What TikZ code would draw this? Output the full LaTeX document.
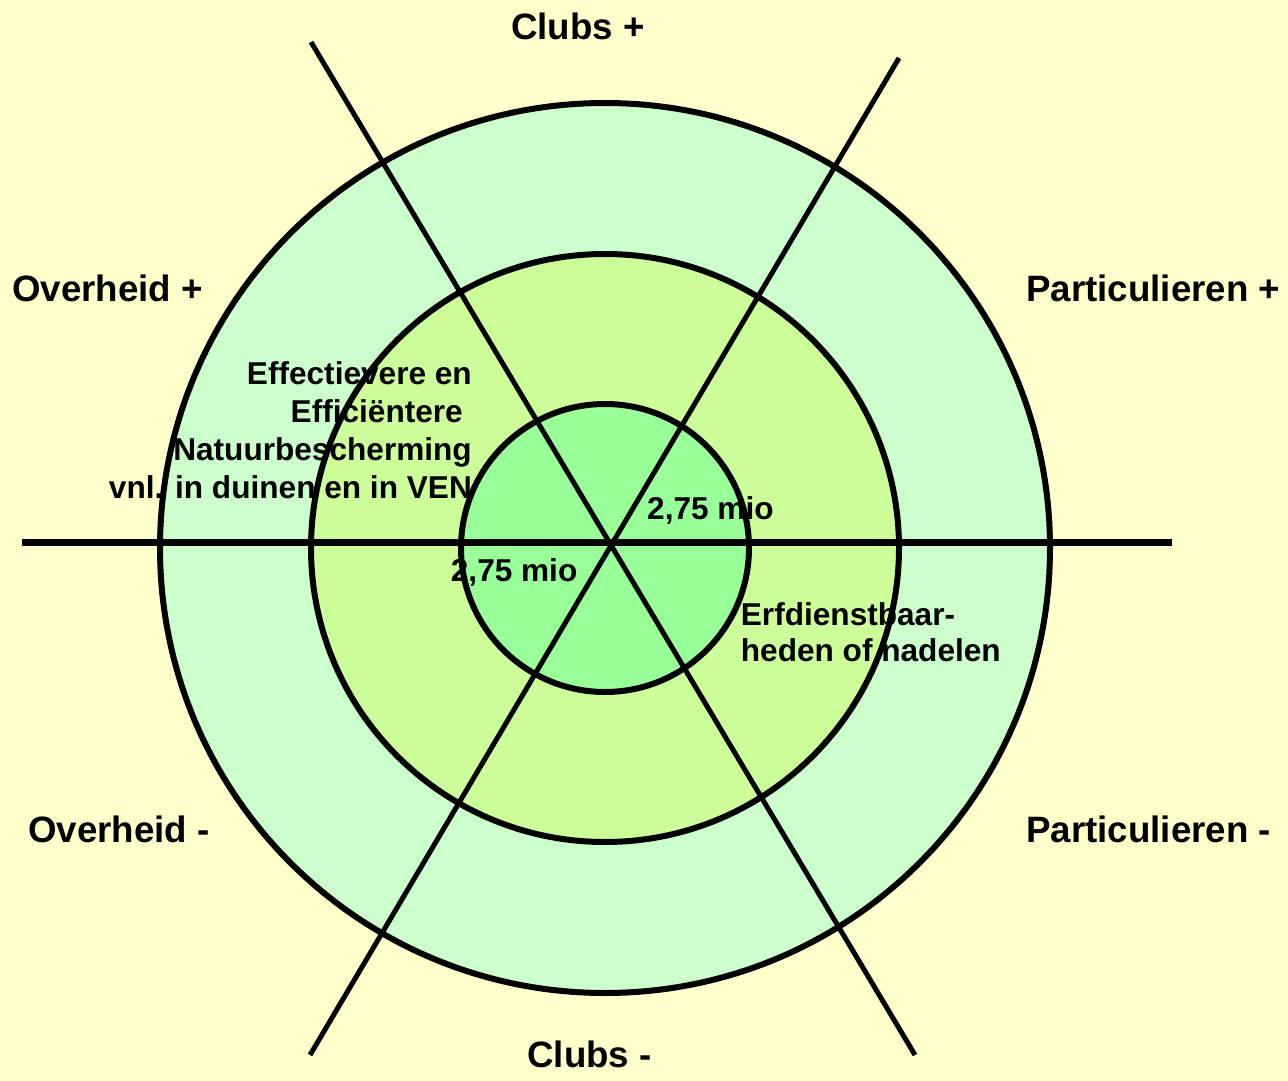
\documentclass[tikz,border=0pt]{standalone}
\usepackage{fontspec}
\setmainfont{Liberation Sans}
\definecolor{bgy}{HTML}{FFFFCC}
\definecolor{ringout}{HTML}{CCFFCC}
\definecolor{ringmid}{HTML}{CCFF99}
\definecolor{ringin}{HTML}{99FF99}
\begin{document}
\begin{tikzpicture}[x=1pt,y=-1pt,
  lab/.style={font=\fontsize{36.7}{44}\selectfont\bfseries, inner sep=0pt},
  txt/.style={font=\fontsize{31.6}{38}\selectfont\bfseries, inner sep=0pt},
  ring/.style={draw=black, line width=6pt},
  spoke/.style={draw=black, line width=5pt},
  axis/.style={draw=black, line width=7pt}]
\fill[bgy] (0,0) rectangle (1288,1081);
\useasboundingbox (0,0) rectangle (1288,1081);
\coordinate (c) at (605,548);
\fill[ringout] (c) circle [radius=445pt];
\fill[ringmid] (c) circle [radius=294pt];
\fill[ringin] (c) circle [radius=144pt];
% labels
\node[lab, anchor=base] (clubsp) at (578,40) {Clubs +};
\node[lab, anchor=base] (clubsm) at (589.5,1067) {Clubs -};
\node[lab, anchor=base west] (overp) at (12,301) {Overheid +};
\node[lab, anchor=base west] (partp) at (1026,301) {Particulieren +};
\node[lab, anchor=base west] (overm) at (28,842) {Overheid -};
\node[lab, anchor=base west] (partm) at (1026,842) {Particulieren -};
% inner texts
\node[txt, anchor=base east] (t1) at (472,384.5) {Effectievere en};
\node[txt, anchor=base east] (t2) at (463,422.7) {Efficiëntere};
\node[txt, anchor=base east] (t3) at (472,460.7) {Natuurbescherming};
\node[txt, anchor=base east] (t4) at (472,498) {vnl. in duinen en in VEN};
\node[txt, anchor=base west] (m1) at (647,519.3) {2,75 mio};
\node[txt, anchor=base west] (m2) at (450.7,581.7) {2,75 mio};
\node[txt, anchor=base west] (e1) at (740.7,625.7) {Erfdienstbaar-};
\node[txt, anchor=base west] (e2) at (740.7,661.7) {heden of nadelen};
% circles
\draw[ring] (c) circle [radius=445pt];
\draw[ring] (c) circle [radius=294pt];
\draw[ring] (c) circle [radius=144pt];
% lines
\coordinate (h1) at (22,542);
\coordinate (h2) at (1172,542);
\coordinate (d1a) at (311,42);
\coordinate (d1b) at (915,1055);
\coordinate (d2a) at (899,58);
\coordinate (d2b) at (310,1055);
\draw[axis] (h1) -- (h2);
\draw[spoke] (d1a) -- (d1b);
\draw[spoke] (d2a) -- (d2b);
\end{tikzpicture}
\end{document}
